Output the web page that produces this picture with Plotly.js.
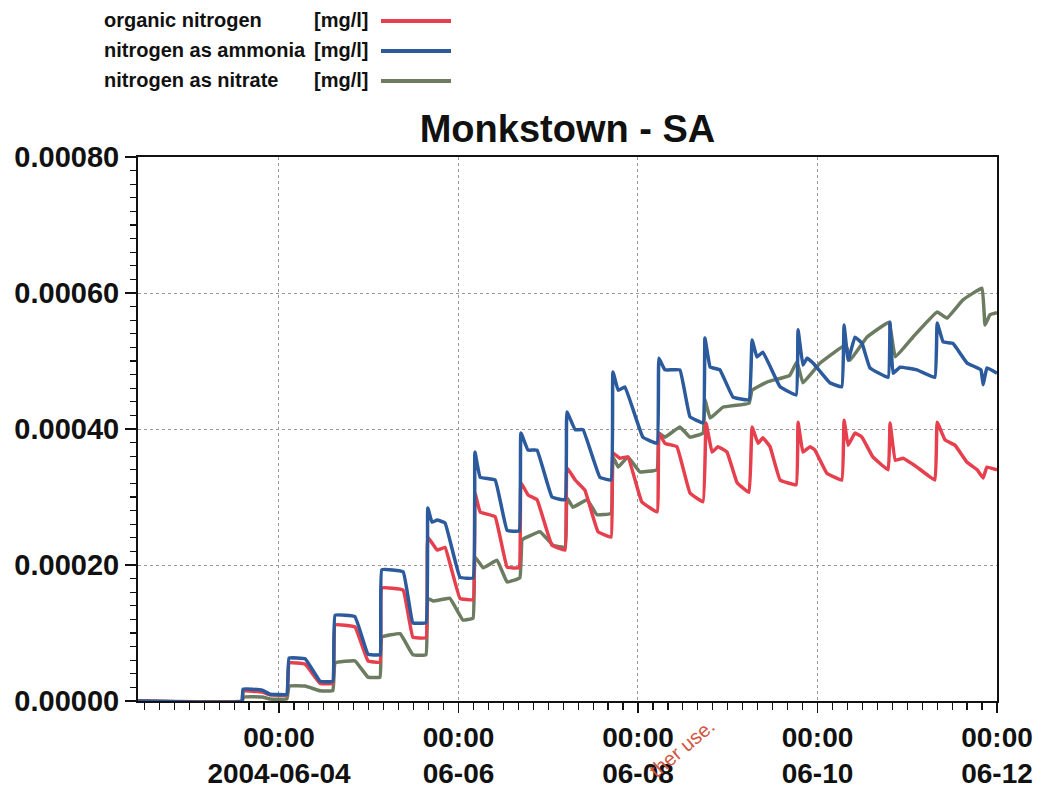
<!DOCTYPE html>
<html>
<head>
<meta charset="utf-8">
<script src="https://cdn.plot.ly/plotly-3.0.1.min.js"></script>
<style>html,body{margin:0;padding:0;background:#fff;}#chart{width:1042px;height:790px;}</style>
</head>
<body>
<div id="chart"></div>
<script>
// Hours relative to 2004-06-04 00:00, values in mg/l
const seriesNames = ['organic nitrogen', 'nitrogen as ammonia', 'nitrogen as nitrate'];
const unitLabel = '[mg/l]';

const organicHours = [-37.7,-9.9,-9.6,-4.5,-2.4, 2.1,2.7,7.0,11.0, 14.4,15.0,20.3,23.8, 27.0,27.5,33.2,35.8,
  39.3,39.8,42.3,44.4,48.4, 51.9,52.4,53.8,57.8,61.0, 64.2,64.7,66.6,69.0,73.0, 76.5,77.0,79.2,81.8,85.3,
  88.8,89.3,91.1,93.3,97.0, 101.1,101.6,103.2,106.4,109.9, 113.4,114.2,115.8,117.4,119.8,122.5,
  125.7,126.5,128.1,129.4,131.3,134.0, 138.3,138.8,140.1,142.0,143.3,146.5, 150.5,151.1,152.2,154.0,155.9,158.8,
  162.9,163.4,164.8,166.9,170.6, 175.4,176.0,178.1,180.8,184.0,186.7,188.3,189.3,192.0];
const organicValues = [0,0,0.000015,0.000013,0.000009, 0.000009,0.000056,0.000054,0.000026, 0.000026,0.000112,0.000109,0.000059, 0.000057,0.000166,0.000163,0.000094,
  0.000093,0.000241,0.000222,0.000226,0.000151, 0.000149,0.000306,0.000278,0.000271,0.000197, 0.000196,0.000321,0.000303,0.000296,0.000229, 0.000222,0.000343,0.000325,0.000310,0.000249,
  0.000241,0.000365,0.000357,0.000359,0.000293, 0.000278,0.000394,0.000379,0.000374,0.000306, 0.000293,0.000409,0.000366,0.000374,0.000366,0.000321,
  0.000307,0.000403,0.000379,0.000387,0.000374,0.000325, 0.000318,0.000410,0.000366,0.000374,0.000369,0.000335, 0.000325,0.000413,0.000376,0.000394,0.000388,0.000359,
  0.000340,0.000409,0.000354,0.000357,0.000344, 0.000325,0.000410,0.000384,0.000376,0.000351,0.000340,0.000328,0.000344,0.000340];

const ammoniaHours = [-37.7,-9.9,-9.6,-4.5,-2.4, 2.1,2.7,7.0,11.0, 14.4,15.0,20.3,23.8, 27.0,27.5,33.2,35.8,
  39.3,39.8,40.9,42.3,44.4,48.4, 51.9,52.4,53.8,57.8,61.0, 64.2,64.7,66.6,69.0,73.0, 76.5,77.0,79.2,81.3,85.8,
  88.8,89.3,90.7,92.5,97.3, 101.1,101.6,103.2,107.2,109.9, 113.4,113.9,115.3,117.9,121.4,
  125.7,126.5,127.8,129.4,134.0, 138.3,138.8,140.1,141.2,142.8,147.3, 150.5,151.1,152.2,154.0,155.9,158.0,
  162.9,163.4,164.2,166.1,170.6, 175.4,176.0,177.6,180.2,184.0, 187.7,188.3,189.3,192.0];
const ammoniaValues = [0,0,0.0000176,0.000016,0.000010, 0.000010,0.000063,0.000062,0.000029, 0.000029,0.000126,0.000124,0.000069, 0.000068,0.000193,0.000190,0.000115,
  0.000115,0.000284,0.000263,0.000266,0.000262,0.000182, 0.000181,0.000366,0.000329,0.000325,0.000251, 0.000250,0.000394,0.000369,0.000369,0.000300, 0.000296,0.000425,0.000399,0.000399,0.000329,
  0.000325,0.000484,0.000457,0.000462,0.000388, 0.000379,0.000504,0.000487,0.000487,0.000418, 0.000409,0.000534,0.000491,0.000487,0.000447,
  0.000443,0.000531,0.000506,0.000513,0.000462, 0.000450,0.000546,0.000494,0.000504,0.000497,0.000468, 0.000462,0.000553,0.000501,0.000535,0.000526,0.000490,
  0.000476,0.000557,0.000482,0.000491,0.000487, 0.000476,0.000556,0.000528,0.000526,0.000497, 0.000487,0.000465,0.000490,0.000482];

const nitrateHours = [-37.7,-9.9,-9.4,-4.5,-2.4, 2.1,2.7,7.0,11.0, 14.4,15.0,20.3,23.8, 27.0,27.5,32.4,35.8,
  39.3,39.8,41.2,45.7,49.2, 51.9,52.4,54.6,58.3,61.0, 64.4,65.0,66.3,69.8,73.3, 76.5,77.0,78.6,82.4,85.0,
  88.8,89.3,90.7,93.3,96.5, 101.1,101.6,103.2,107.2,109.9, 113.4,113.9,115.3,118.7,
  125.7,126.5,130.5,136.6,138.5,140.1,144.7,151.6,152.7,157.2,163.1,164.8,169.5,176.0,178.6,182.9,188.0,188.8,190.1,192.0];
const nitrateValues = [0,0,0.000006,0.000006,0.000003, 0.000003,0.000022,0.000022,0.000015, 0.000015,0.000056,0.000059,0.000035, 0.000035,0.000094,0.000099,0.000068,
  0.000068,0.000151,0.000147,0.000151,0.000119, 0.000122,0.000212,0.000196,0.000207,0.000175, 0.000181,0.000237,0.000241,0.000249,0.000229, 0.000226,0.000299,0.000285,0.000296,0.000274,
  0.000276,0.000359,0.000344,0.000359,0.000337, 0.000340,0.000394,0.000388,0.000403,0.000388, 0.000394,0.000443,0.000416,0.000432,
  0.000438,0.000457,0.000469,0.000479,0.000499,0.000468,0.000497,0.000524,0.000501,0.000535,0.000557,0.000506,0.000535,0.000572,0.000563,0.000590,0.000607,0.000553,0.000568,0.000571];

const xTickDates = ['2004-06-04', '2004-06-06', '2004-06-08', '2004-06-10', '2004-06-12'];
const xTickLabels = ['00:00<br>2004-06-04', '00:00<br>06-06', '00:00<br>06-08', '00:00<br>06-10', '00:00<br>06-12'];
const yTickValues = [0, 0.0002, 0.0004, 0.0006, 0.0008];
const yTickLabels = ['0.00000', '0.00020', '0.00040', '0.00060', '0.00080'];

const colors = ['#e6404e', '#2b5a9d', '#6c7c61'];
const FONT = 'Liberation Sans, Arial, Helvetica, sans-serif';

function toDate(h) {
  const d = new Date(Date.UTC(2004, 5, 4) + Math.round(h * 3600000));
  return d.toISOString().slice(0, 19).replace('T', ' ');
}

const hoursList = [organicHours, ammoniaHours, nitrateHours];
const valuesList = [organicValues, ammoniaValues, nitrateValues];
const order = [2, 0, 1];
const traces = order.map(i => ({
  type: 'scatter', mode: 'lines', name: seriesNames[i],
  x: hoursList[i].map(toDate), y: valuesList[i],
  line: {color: colors[i], width: 3.5, shape: 'spline', smoothing: 0.25},
  showlegend: false, hoverinfo: 'x+y'
}));

function px2paperX(px) { return (px - 138) / (997 - 138); }
function px2paperY(py) { return (701 - py) / (701 - 157); }

const legendRows = [20, 50, 80];
const annotations = [];
const shapes = [];
seriesNames.forEach((n, i) => {
  annotations.push({xref: 'paper', yref: 'paper', x: px2paperX(102), y: px2paperY(legendRows[i]), xanchor: 'left', yanchor: 'middle',
    text: n, showarrow: false, font: {family: FONT, size: 20, weight: 'bold', color: '#111'}});
  annotations.push({xref: 'paper', yref: 'paper', x: px2paperX(312), y: px2paperY(legendRows[i]), xanchor: 'left', yanchor: 'middle',
    text: unitLabel, showarrow: false, font: {family: FONT, size: 20, weight: 'bold', color: '#111'}});
  shapes.push({type: 'line', xref: 'paper', yref: 'paper', x0: px2paperX(381), x1: px2paperX(451),
    y0: px2paperY(legendRows[i] + 1), y1: px2paperY(legendRows[i] + 1), line: {color: colors[i], width: 4}});
});
annotations.push({xref: 'paper', yref: 'paper', x: px2paperX(682), y: px2paperY(748), xanchor: 'center', yanchor: 'middle',
  text: 'ther use.', showarrow: false, textangle: -40, font: {family: FONT, size: 20, color: '#d2553f'}});

const layout = {
  width: 1042, height: 790,
  margin: {l: 138, r: 45, t: 157, b: 89},
  paper_bgcolor: '#ffffff', plot_bgcolor: '#ffffff',
  font: {family: FONT, color: '#111'},
  title: {text: 'Monkstown - SA', font: {family: FONT, size: 38, weight: 'bold', color: '#111'},
    x: 0.5, xref: 'paper', xanchor: 'center', y: 1 - 129 / 790, yref: 'container', yanchor: 'middle'},
  xaxis: {
    type: 'date', range: [toDate(-37.7), toDate(192)],
    tickmode: 'array', tickvals: xTickDates, ticktext: xTickLabels,
    ticks: 'outside', ticklen: 10, tickwidth: 1.5, tickcolor: '#111',
    tickfont: {family: FONT, size: 28, weight: 'bold', color: '#111'},
    showline: true, linecolor: '#111', linewidth: 2, mirror: true,
    showgrid: true, gridcolor: '#999', griddash: 'dot', gridwidth: 1,
    zeroline: false,
    minor: {tick0: '2004-06-04', dtick: 4 * 3600000, ticks: 'outside', ticklen: 7, tickwidth: 1.2, tickcolor: '#111', showgrid: false}
  },
  yaxis: {
    range: [0, 0.0008],
    tickmode: 'array', tickvals: yTickValues, ticktext: yTickLabels,
    ticks: 'outside', ticklen: 11, tickwidth: 1.5, tickcolor: '#111',
    tickfont: {family: FONT, size: 29, weight: 'bold', color: '#111'},
    showline: true, linecolor: '#111', linewidth: 2, mirror: true,
    showgrid: true, gridcolor: '#999', griddash: 'dot', gridwidth: 1,
    zeroline: false,
    minor: {tick0: 0, dtick: 0.00002, ticks: 'outside', ticklen: 6, tickwidth: 1.2, tickcolor: '#111', showgrid: false}
  },
  annotations: annotations,
  shapes: shapes,
  showlegend: false
};

Plotly.newPlot('chart', traces, layout, {displayModeBar: false, staticPlot: true});
</script>
</body>
</html>
